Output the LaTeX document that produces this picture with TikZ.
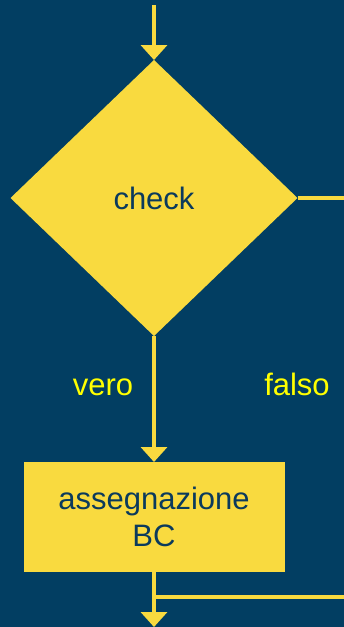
\documentclass[tikz,border=0pt]{standalone}
\usepackage{fontspec}
\setmainfont{Liberation Sans}
\usetikzlibrary{shapes.geometric,arrows.meta}
\definecolor{bgblue}{HTML}{023E62}
\definecolor{fyellow}{HTML}{F9DA3F}
\definecolor{lblyellow}{HTML}{FFFF00}
\definecolor{txtdark}{HTML}{0B3A5C}
\tikzset{
  flowline/.style={draw=fyellow,line width=3.6pt},
  flowarrow/.style={flowline,-{Triangle[width=26pt,length=15pt]}},
  decision/.style={shape=diamond,fill=fyellow,draw=none,minimum width=287pt,minimum height=276pt,inner sep=0pt,outer sep=0pt,text=txtdark,font=\fontsize{31}{37}\selectfont},
  process/.style={shape=rectangle,fill=fyellow,draw=none,minimum width=261pt,minimum height=110pt,inner sep=0pt,outer sep=0pt,text=txtdark,align=center,font=\fontsize{31}{37}\selectfont},
  edgelabel/.style={text=lblyellow,inner sep=0pt,anchor=base,font=\fontsize{31}{37}\selectfont}
}
\begin{document}
\begin{tikzpicture}[x=1pt,y=-1pt]
  \fill[bgblue] (0,0) rectangle (344,627);
  \useasboundingbox (0,0) rectangle (344,627);
  \coordinate (start) at (154,5);
  \node[decision] (check) at (154,198) {check};
  \node[process] (assign) at (154,517) {assegnazione\\BC};
  \coordinate (rightout) at (344,198);
  \coordinate (join) at (154,597);
  \coordinate (joinright) at (344,597);
  \coordinate (endpt) at (154,627);
  \node[edgelabel] (vero) at (103,395) {vero};
  \node[edgelabel] (falso) at (297,395) {falso};
  \draw[flowarrow] (start) -- (check.north);
  \draw[flowline] (check.east) -- (rightout);
  \draw[flowarrow] (check.south) -- (assign.north);
  \draw[flowarrow] (assign.south) -- (endpt);
  \draw[flowline] (joinright) -- (join);
\end{tikzpicture}
\end{document}
